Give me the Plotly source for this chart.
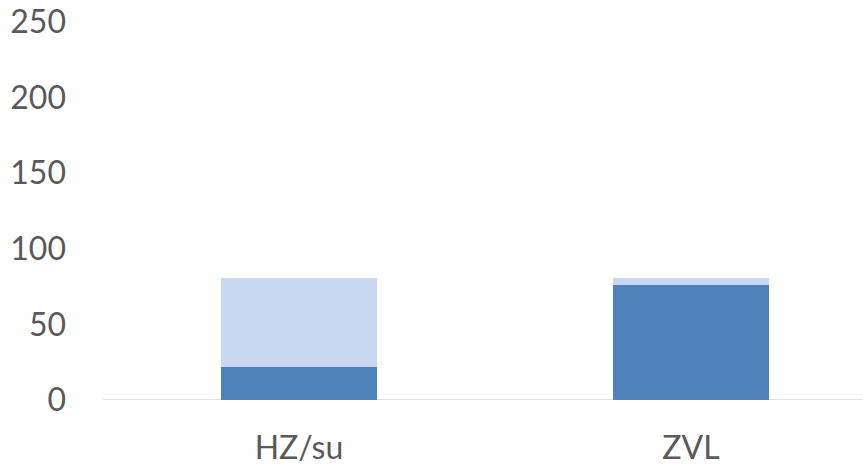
import plotly.graph_objects as go

categories = ["HZ/su", "ZVL"]
series_dark = [22, 76]
series_light = [59, 5]
y_ticks = [0, 50, 100, 150, 200, 250]

fig = go.Figure()
fig.add_trace(go.Bar(x=categories, y=series_dark, marker=dict(color="#4F81BD", line=dict(width=0)),
                     width=0.4, name="A"))
fig.add_trace(go.Bar(x=categories, y=series_light, marker=dict(color="#C6D9F0", line=dict(width=0)),
                     width=0.4, name="B"))

fig.update_layout(
    barmode="stack",
    width=863, height=466,
    margin=dict(l=103, r=0, t=22, b=66),
    paper_bgcolor="white", plot_bgcolor="white",
    showlegend=False,
    font=dict(family="Lato", size=32, color="#595959"),
    xaxis=dict(range=[-0.5, 1.439], showgrid=False, showline=False, zeroline=False,
               ticks="", ticklabelstandoff=26),
    yaxis=dict(range=[0, 250], tickvals=y_ticks, showgrid=False, zeroline=False,
               showline=False, ticks="", ticklabelstandoff=36),
    shapes=[dict(type="line", xref="paper", yref="y", x0=0, x1=1, y0=0, y1=0,
                 line=dict(color="#D9D9D9", width=1.5), layer="below")],
)

fig.write_html("out.html")
